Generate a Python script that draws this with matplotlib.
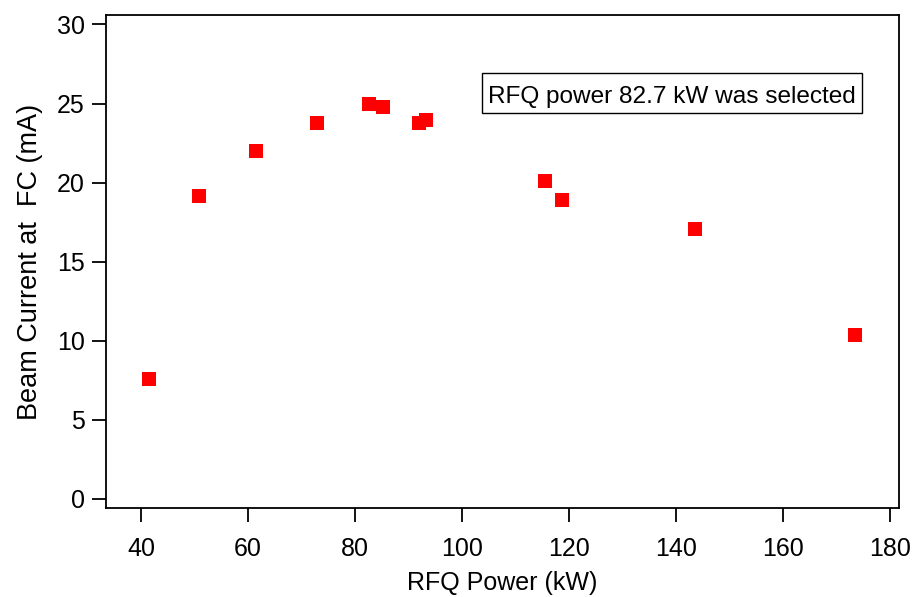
import matplotlib
matplotlib.use("Agg")
import matplotlib.pyplot as plt
from matplotlib.patches import Rectangle

# RFQ power scan: beam current at the Faraday cup
rfq_power = [41.4, 50.8, 61.4, 72.9, 82.7, 85.3, 92.0, 93.3, 115.6, 118.7, 143.5, 173.5]
beam_current = [7.6, 19.15, 22.0, 23.75, 24.95, 24.8, 23.8, 23.95, 20.1, 18.9, 17.05, 10.35]

x_ticks = [40, 60, 80, 100, 120, 140, 160, 180]
y_ticks = [0, 5, 10, 15, 20, 25, 30]

plt.rcParams["font.family"] = ["Liberation Sans", "DejaVu Sans"]

fig = plt.figure(figsize=(9.16, 5.97), dpi=100)
ax = fig.add_axes([0.1152, 0.1491, 0.8657, 0.8258])

ax.plot(rfq_power, beam_current, "s", color="#ff0000", ms=9.4,
        markeredgewidth=0, linestyle="none")

ax.set_xlim(33.36, 181.6)
ax.set_ylim(-0.57, 30.6)
ax.set_xticks(x_ticks)
ax.set_yticks(y_ticks)

for s in ax.spines.values():
    s.set_linewidth(1.3)
ax.tick_params(top=False, right=False, direction="out", length=10, width=1.3,
               labelsize=18)
ax.tick_params(axis="x", pad=11)
ax.tick_params(axis="y", pad=5)

ax.set_xlabel("RFQ Power (kW)", fontsize=18, labelpad=7)
ax.set_ylabel("Beam Current at  FC (mA)", fontsize=19.5, labelpad=10)

# annotation box (frame drawn separately for the taller padding)
ax.add_patch(Rectangle((0.4748, 0.801), 0.4792, 0.081, transform=ax.transAxes,
                       facecolor="white", edgecolor="black", linewidth=1.0,
                       zorder=4))
ax.text(0.714, 0.822, "RFQ power 82.7 kW was selected", transform=ax.transAxes,
        ha="center", va="baseline", fontsize=17.6, zorder=5)

fig.savefig("out.png", dpi=100)
